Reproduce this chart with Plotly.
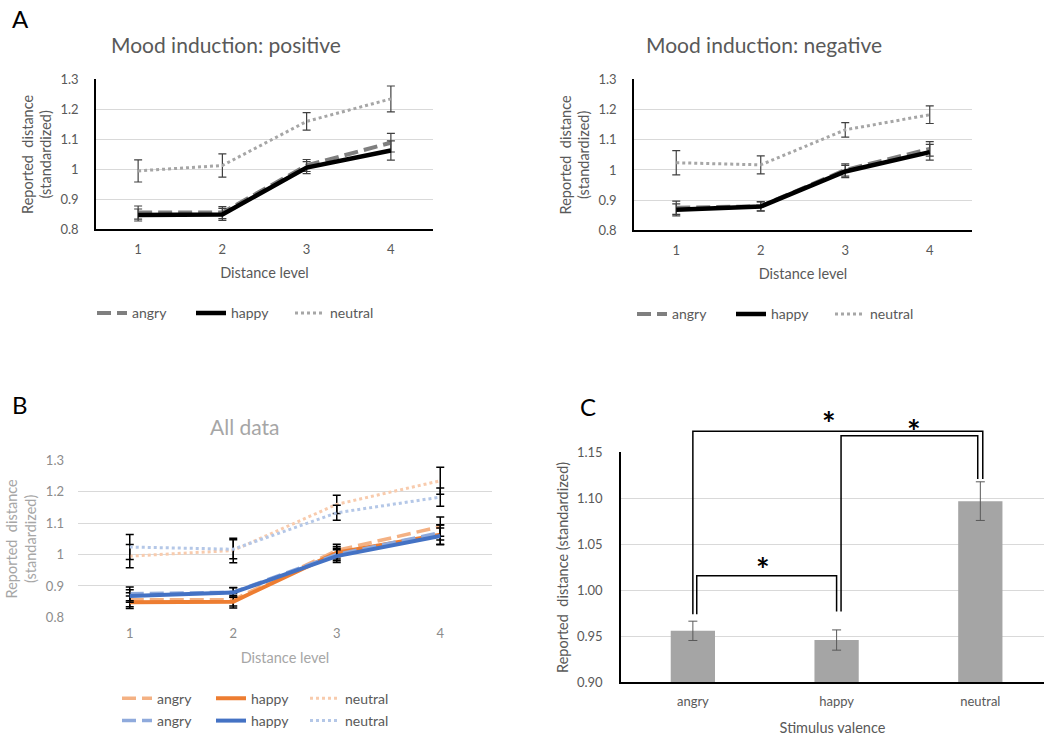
import plotly.graph_objects as go

W, H = 1044, 737
FONT = "Lato"

# ---------------- data ----------------
levels = [1, 2, 3, 4]
dist_ticks = [0.8, 0.9, 1.0, 1.1, 1.2, 1.3]
dist_ticktext = ["0.8", "0.9", "1", "1.1", "1.2", "1.3"]

pos_angry = [0.856, 0.856, 1.013, 1.089]
pos_angry_err = [0.022, 0.020, 0.020, 0.031]
pos_happy = [0.848, 0.850, 1.006, 1.063]
pos_happy_err = [0.020, 0.020, 0.020, 0.032]
pos_neutral = [0.995, 1.013, 1.160, 1.235]
pos_neutral_err = [0.037, 0.039, 0.029, 0.043]

neg_angry = [0.875, 0.880, 1.000, 1.070]
neg_angry_err = [0.022, 0.015, 0.020, 0.024]
neg_happy = [0.868, 0.879, 0.995, 1.059]
neg_happy_err = [0.020, 0.015, 0.020, 0.026]
neg_neutral = [1.024, 1.017, 1.133, 1.183]
neg_neutral_err = [0.040, 0.030, 0.024, 0.029]

valence = ["angry", "happy", "neutral"]
valence_mean = [0.956, 0.946, 1.097]
valence_err = [0.0105, 0.011, 0.021]
valence_ticks = [0.90, 0.95, 1.00, 1.05, 1.10, 1.15]
valence_ticktext = ["0.90", "0.95", "1.00", "1.05", "1.10", "1.15"]

# significance brackets: (left x, left bottom y, right x, right bottom y, top y)
brackets = [
    (0.0, 0.974, 2.017, 1.121, 1.173),
    (1.031, 0.977, 1.982, 1.121, 1.168),
    (0.027, 0.974, 1.0, 0.977, 1.016),
]
stars = [(0.95, 1.19), (1.539, 1.181), (0.49, 1.031)]

# vertical calibration of the photographed page (measured: shown_y = 7.6 + 0.977 * layout_y)
Y_OFF, Y_SCALE = 7.6, 0.977


def ly(p):
    """layout pixel (from top) that appears at picture row p"""
    return (p - Y_OFF) / Y_SCALE


def xd(a, b):
    return [a / W, b / W]


def yd(top, bottom):
    return [1 - ly(bottom) / H, 1 - ly(top) / H]


def py(p):
    return 1 - ly(p) / H


fig = go.Figure()

DASH = "14px,6px"


def add_line_set(vals, errs, names, colors, widths, dashes, xa, ya, legend, ecolor, ethick):
    for v, e, n, c, w, d in zip(vals, errs, names, colors, widths, dashes):
        fig.add_trace(go.Scatter(
            x=levels, y=v, name=n, mode="lines",
            line=dict(color=c, width=w, dash=d),
            error_y=dict(type="data", array=e, color=ecolor, thickness=ethick, width=4),
            xaxis=xa, yaxis=ya, legend=legend,
        ))


names = ["angry", "happy", "neutral"]
gray_cols = ["#7F7F7F", "#000000", "#A6A6A6"]
widths_A = [4, 4.5, 3]
dashes = [DASH, "solid", "dot"]

add_line_set([pos_angry, pos_happy, pos_neutral], [pos_angry_err, pos_happy_err, pos_neutral_err],
             names, gray_cols, widths_A, dashes, "x", "y", "legend", "#404040", 1.2)
add_line_set([neg_angry, neg_happy, neg_neutral], [neg_angry_err, neg_happy_err, neg_neutral_err],
             names, gray_cols, widths_A, dashes, "x2", "y2", "legend2", "#404040", 1.2)

orange_cols = ["#F4B183", "#ED7D31", "#F8CBAD"]
blue_cols = ["#8FAADC", "#4472C4", "#B4C7E7"]
widths_B = [3.5, 4, 3]
add_line_set([pos_angry, pos_happy, pos_neutral], [pos_angry_err, pos_happy_err, pos_neutral_err],
             names, orange_cols, widths_B, dashes, "x3", "y3", "legend3", "#000000", 1.5)
add_line_set([neg_angry, neg_happy, neg_neutral], [neg_angry_err, neg_happy_err, neg_neutral_err],
             names, blue_cols, widths_B, dashes, "x3", "y3", "legend4", "#000000", 1.5)

fig.add_trace(go.Bar(
    x=valence, y=valence_mean, width=0.308, marker=dict(color="#A5A5A5", line=dict(width=0)),
    error_y=dict(type="data", array=valence_err, color="#595959", thickness=1, width=4.5),
    xaxis="x4", yaxis="y4", showlegend=False,
))

tick_col = "#595959"
light_col = "#8C8C8C"
TICK_SIZE = 13
TITLE_SIZE = 14.5


def xaxis_lines(dom, anchor, showline, col, title_col):
    return dict(domain=dom, anchor=anchor, range=[0.5, 4.5], tickvals=levels,
                showline=showline, linecolor="black", linewidth=1.5, showgrid=False,
                zeroline=False, ticks="", ticklabelstandoff=7,
                tickfont=dict(family=FONT, size=TICK_SIZE, color=col),
                title=dict(text="Distance level", standoff=12,
                           font=dict(family=FONT, size=TITLE_SIZE, color=title_col)))


def yaxis_lines(dom, anchor, showline, col, title_col):
    return dict(domain=dom, anchor=anchor, range=[0.8, 1.3], tickvals=dist_ticks,
                ticktext=dist_ticktext, showline=showline, linecolor="black", linewidth=1.5,
                showgrid=True, gridcolor="#D9D9D9", gridwidth=1, zeroline=False, ticks="",
                ticklabelstandoff=13, tickfont=dict(family=FONT, size=TICK_SIZE, color=col),
                title=dict(text="Reported  distance<br>(standardized)", standoff=5,
                           font=dict(family=FONT, size=TITLE_SIZE, color=title_col)))


xr4 = [-0.5, 2.443]
yr4 = [0.90, 1.15]

fig.update_layout(
    width=W, height=H, margin=dict(l=0, r=0, t=0, b=0), autosize=False,
    paper_bgcolor="white", plot_bgcolor="white",
    font=dict(family=FONT, color=tick_col),
    xaxis=xaxis_lines(xd(96, 433), "y", True, tick_col, tick_col),
    yaxis=yaxis_lines(yd(79, 229), "x", True, tick_col, tick_col),
    xaxis2=xaxis_lines(xd(634, 972), "y2", True, tick_col, tick_col),
    yaxis2=yaxis_lines(yd(79, 230), "x2", True, tick_col, tick_col),
    xaxis3=xaxis_lines(xd(78, 492), "y3", False, light_col, "#A6A6A6"),
    yaxis3=yaxis_lines(yd(460, 617), "x3", False, light_col, "#A6A6A6"),
    xaxis4=dict(domain=xd(621, 1044), anchor="y4", range=xr4, type="category",
                showline=True, linecolor="black", linewidth=1.5, showgrid=False,
                ticks="", ticklabelstandoff=6,
                tickfont=dict(family=FONT, size=TICK_SIZE, color=tick_col),
                title=dict(text="Stimulus valence", standoff=15,
                           font=dict(family=FONT, size=TITLE_SIZE, color=tick_col))),
    yaxis4=dict(domain=yd(452, 682), anchor="x4", range=yr4, tickvals=valence_ticks,
                ticktext=valence_ticktext, showline=True, linecolor="black", linewidth=1.5,
                showgrid=True, gridcolor="#D9D9D9", zeroline=False, ticks="",
                ticklabelstandoff=14, tickfont=dict(family=FONT, size=TICK_SIZE, color=tick_col),
                title=dict(text="Reported  distance (standardized)", standoff=5,
                           font=dict(family=FONT, size=TITLE_SIZE, color=tick_col))),
)

legend_common = dict(orientation="h", xanchor="left", yanchor="middle",
                     entrywidthmode="pixels", bgcolor="rgba(0,0,0,0)",
                     font=dict(family=FONT, size=14, color=tick_col), traceorder="normal")
fig.update_layout(
    legend=dict(legend_common, x=92 / W, y=py(313), entrywidth=54),
    legend2=dict(legend_common, x=632 / W, y=py(314), entrywidth=54),
    legend3=dict(legend_common, x=117 / W, y=1 - 707 / H, entrywidth=49),
    legend4=dict(legend_common, x=117 / W, y=1 - 730 / H, entrywidth=49),
)

# titles and panel letters
ann = [
    dict(text="Mood induction: positive", x=226 / W, y=py(44), size=21, color="#595959"),
    dict(text="Mood induction: negative", x=764 / W, y=py(44), size=21, color="#595959"),
    dict(text="All data", x=245 / W, y=py(426), size=21, color="#A6A6A6"),
    dict(text="A", x=20 / W, y=py(18), size=24, color="black"),
    dict(text="B", x=20 / W, y=py(404), size=24, color="black"),
    dict(text="C", x=588 / W, y=py(406), size=24, color="black"),
]
for a in ann:
    fig.add_annotation(text=a["text"], x=a["x"], y=a["y"], xref="paper", yref="paper",
                       showarrow=False, xanchor="center", yanchor="middle",
                       font=dict(family=FONT, size=a["size"], color=a["color"]))


def fx(v):
    return (v - xr4[0]) / (xr4[1] - xr4[0])


def fy(v):
    return (v - yr4[0]) / (yr4[1] - yr4[0])


for (lx, lby, rx, rby, ty) in brackets:
    path = f"M {fx(lx)} {fy(lby)} L {fx(lx)} {fy(ty)} L {fx(rx)} {fy(ty)} L {fx(rx)} {fy(rby)}"
    fig.add_shape(type="path", path=path, xref="x4 domain", yref="y4 domain",
                  line=dict(color="black", width=1.5))

for (sx, sy) in stars:
    fig.add_annotation(text="<b>*</b>", x=fx(sx), y=fy(sy), xref="x4 domain", yref="y4 domain",
                       showarrow=False, xanchor="center", yanchor="middle", yshift=-8,
                       font=dict(family=FONT, size=32, color="black"))

page_fix = (
    "document.documentElement.style.margin='0';"
    "document.documentElement.style.overflow='hidden';"
    "document.body.style.margin='0';"
    "document.body.style.overflow='hidden';"
    "var d=document.getElementById('{plot_id}');"
    "d.style.position='fixed';d.style.left='0px';d.style.top='0px';"
)

fig.write_html("out.html", config={"displayModeBar": False, "responsive": False},
               post_script=page_fix)
